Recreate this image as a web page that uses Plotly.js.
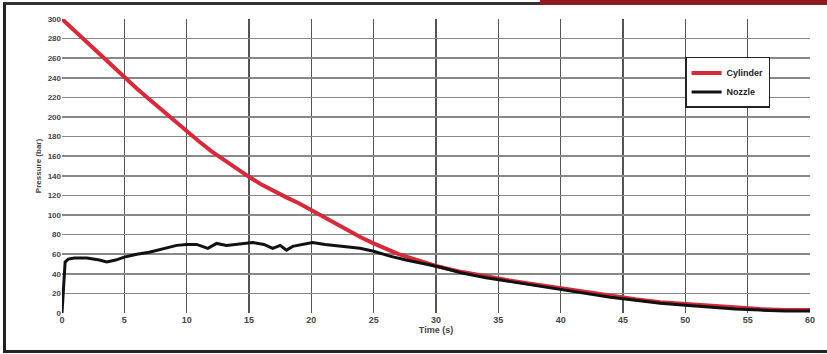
<!DOCTYPE html>
<html><head><meta charset="utf-8">
<script src="https://cdn.plot.ly/plotly-3.0.1.min.js"></script>
<style>
html,body{margin:0;padding:0;background:#fff;}
#wrap{position:relative;width:827px;height:354px;overflow:hidden;}
#chart{width:827px;height:354px;}
#frame{position:absolute;left:3px;top:2px;width:830px;height:345px;border-left:3px solid #222;border-top:3px solid #333;border-bottom:3px solid #222;pointer-events:none;}
#redbar{position:absolute;left:540px;top:0;width:287px;height:5px;background:#8c1a1e;pointer-events:none;}
</style></head>
<body><div id="wrap"><div id="chart"></div><div id="frame"></div><div id="redbar"></div></div>
<script>
const cylTime = [0,1,2,3,4,5,6,7,8,9,10,11,12,13,14,15,16,17,18,19,20,21,22,23,24,25,26,27,28,29,30,32,34,36,38,40,42,44,46,48,50,52,54,56,58,60];
const cylPressure = [300,288,276,264,252,240,229,218,207,196,186,175,165,156,147,139,131,124,118,112,105,97,90,83,77,71,65,60,56,52,48,42,37,33,29,25,21,17,14,11,9,7,5,4,3,3];
const nozTime = [0,0.25,0.5,1,2,3,3.6,4.3,5,6,7,7.9,9.2,10,10.8,11.7,12.4,13.2,14,14.8,15.3,16.2,16.9,17.5,18,18.5,19.3,20.1,21.1,22.3,23.9,25,26.3,27.6,29,30.3,32,34,36,38,40,42,44,46,48,50,52,54,56,58,60];
const nozPressure = [0,52,55,56,56,54,52,54,57,60,62,65,69,70,70,66,71,69,70,71,72,70,66,69,64,68,70,72,70,68,66,63,58,54,50,47,41,36,32,28,24,20,16,13,10,8,6,4,3,2,2];
const seriesNames = ["Cylinder","Nozzle"];
const xTitle = "Time (s)";
const yTitle = "Pressure (bar)";

const traces = [
  {x: cylTime, y: cylPressure, name: seriesNames[0], type: 'scatter', mode: 'lines',
   line: {color: '#d62a3a', width: 4}},
  {x: nozTime, y: nozPressure, name: seriesNames[1], type: 'scatter', mode: 'lines',
   line: {color: '#111111', width: 3}}
];
const layout = {
  width: 827, height: 354,
  margin: {l: 62, r: 17, t: 19, b: 41},
  paper_bgcolor: '#ffffff', plot_bgcolor: '#ffffff',
  font: {family: 'Liberation Sans, Arial, sans-serif', size: 9, color: '#333'},
  showlegend: true,
  legend: {x: 0.833, y: 0.871, xanchor: 'left', yanchor: 'top', bgcolor: '#ffffff',
           bordercolor: '#222', borderwidth: 1.5, font: {size: 9, color: '#222', weight: 'bold'},
           tracegroupgap: 0},
  xaxis: {range: [0, 60], dtick: 5, tick0: 0, showgrid: true, gridcolor: '#555', gridwidth: 1.6,
          zeroline: false, showline: false, ticks: '', ticklen: 0,
          tickfont: {size: 9, color: '#444', weight: 'bold'},
          title: {text: xTitle, font: {size: 9, color: '#444', weight: 'bold'}, standoff: 2}},
  yaxis: {range: [0, 300], dtick: 20, tick0: 0, showgrid: true, gridcolor: '#888', gridwidth: 1.6,
          zeroline: false, showline: false, ticks: '',
          tickfont: {size: 8, color: '#444', weight: 'bold'},
          title: {text: yTitle, font: {size: 8, color: '#444', weight: 'bold'}, standoff: 4}}
};
Plotly.newPlot('chart', traces, layout, {displayModeBar: false, staticPlot: true});
</script></body></html>
